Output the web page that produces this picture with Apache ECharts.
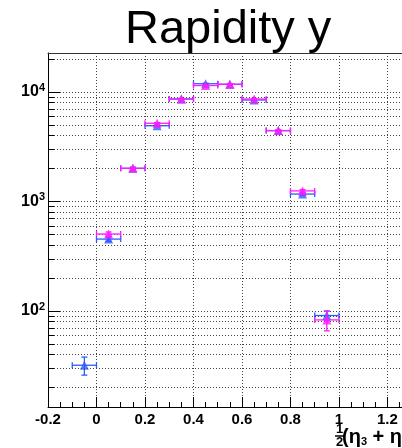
<!DOCTYPE html>
<html>
<head>
<meta charset="utf-8">
<script src="https://cdn.jsdelivr.net/npm/echarts@6/dist/echarts.min.js"></script>
<style>
  html, body { margin: 0; padding: 0; background: #fff; }
  #chart { width: 402px; height: 448px; }
</style>
</head>
<body>
<div id="chart"></div>
<script>
  // bin centres, bin half width 0.05
  var bins = [-0.05, 0.05, 0.15, 0.25, 0.35, 0.45, 0.55, 0.65, 0.75, 0.85, 0.95];
  var binHalf = 0.05;
  var blueVals = [32, 454, 2010, 4920, 8630, 11900, 11760, 8450, 4440, 1170, 91];
  var blueErrs = [6, 21, 45, 70, 93, 109, 108, 92, 67, 34, 9];
  var pinkVals = [null, 505, 2010, 5180, 8630, 11450, 11760, 8630, 4440, 1250, 83];
  var pinkErrs = [null, 22, 45, 72, 93, 107, 108, 93, 67, 35, 17];
  var xTicks = [-0.2, 1.26, 0.2];
  var yRange = [13.3, 22700];

  var font = "Liberation Sans";
  var blue = "#2a5cff";
  var pink = "#ff1aff";

  function rows(vals, errs) {
    var out = [];
    bins.forEach(function (b, i) {
      if (vals[i] != null) out.push([b, vals[i], errs[i]]);
    });
    return out;
  }

  // minor log grid values 2..9 per decade
  var minorVals = [];
  for (var d = 1; d <= 10000; d *= 10) {
    for (var k = 2; k <= 9; k++) {
      var v = k * d;
      if (v > yRange[0] && v < yRange[1]) minorVals.push(v);
    }
  }

  function errorBars(color) {
    return function (params, api) {
      var x = api.value(0), y = api.value(1), e = api.value(2);
      var l = api.coord([x - binHalf, y]);
      var r = api.coord([x + binHalf, y]);
      var t = api.coord([x, y + e]);
      var b = api.coord([x, Math.max(y - e, yRange[0])]);
      var st = { stroke: color, lineWidth: 1.3 };
      var cap = 3;
      return {
        type: "group",
        children: [
          { type: "line", shape: { x1: l[0], y1: l[1], x2: r[0], y2: r[1] }, style: st },
          { type: "line", shape: { x1: l[0], y1: l[1] - cap, x2: l[0], y2: l[1] + cap }, style: st },
          { type: "line", shape: { x1: r[0], y1: r[1] - cap, x2: r[0], y2: r[1] + cap }, style: st },
          { type: "line", shape: { x1: t[0], y1: t[1], x2: b[0], y2: b[1] }, style: st },
          { type: "line", shape: { x1: t[0] - cap, y1: t[1], x2: t[0] + cap, y2: t[1] }, style: st },
          { type: "line", shape: { x1: b[0] - cap, y1: b[1], x2: b[0] + cap, y2: b[1] }, style: st },
        ],
      };
    };
  }

  var dotted = { color: "#444", width: 1, type: [1, 2] };

  var chart = echarts.init(document.getElementById("chart"));
  var option = {
    animation: false,
    backgroundColor: "#fff",
    title: {
      text: "Rapidity y",
      left: 120,
      top: 2,
      textStyle: { fontFamily: font, fontSize: 47, fontWeight: "normal", color: "#000" },
    },
    grid: { left: 48, top: 53, width: 354, height: 354 },
    xAxis: [
      {
        type: "value",
        min: xTicks[0],
        max: xTicks[1],
        interval: xTicks[2],
        axisLine: { onZero: false, lineStyle: { color: "#000", width: 1 } },
        axisTick: { inside: true, length: 10, lineStyle: { color: "#000" } },
        minorTick: { show: true, splitNumber: 4, length: 5, lineStyle: { color: "#000" } },
        splitLine: { show: true, lineStyle: dotted },
        axisLabel: {
          margin: 5,
          fontFamily: font,
          fontWeight: "bold",
          fontSize: 15,
          color: "#000",
          showMaxLabel: false,
        },
      },
      {
        type: "value",
        position: "top",
        min: xTicks[0],
        max: xTicks[1],
        axisLine: { onZero: false, lineStyle: { color: "#333", width: 1 } },
        axisTick: { show: false },
        axisLabel: { show: false },
        splitLine: { show: false },
      },
    ],
    yAxis: {
      type: "log",
      logBase: 10,
      min: yRange[0],
      max: yRange[1],
      axisLine: { show: true, onZero: false, lineStyle: { color: "#000", width: 1 } },
      axisTick: { inside: true, length: 12, lineStyle: { color: "#000" } },
      splitLine: { show: true, lineStyle: dotted },
      axisLabel: {
        margin: 3,
        showMinLabel: false,
        showMaxLabel: false,
        formatter: function (value) {
          var e = Math.round(Math.log10(value));
          if (Math.abs(value - Math.pow(10, e)) / value > 1e-6) return "";
          return "{b|10}{s|" + e + "}";
        },
        rich: {
          b: { fontFamily: font, fontWeight: "bold", fontSize: 16, color: "#000" },
          s: { fontFamily: font, fontWeight: "bold", fontSize: 11, color: "#000", padding: [0, 0, 9, 0] },
        },
      },
    },
    series: [
      {
        type: "scatter",
        name: "grid",
        data: [],
        silent: true,
        markLine: {
          silent: true,
          symbol: "none",
          label: { show: false },
          animation: false,
          data: minorVals
            .map(function (v) {
              return { yAxis: v, lineStyle: dotted };
            })
            .concat(
              minorVals.map(function (v) {
                return [
                  { coord: [xTicks[0], v], lineStyle: { color: "#000", width: 1, type: "solid" } },
                  { coord: [xTicks[0] + 0.025, v] },
                ];
              })
            ),
        },
      },
      {
        type: "custom",
        name: "blueErr",
        renderItem: errorBars(blue),
        data: rows(blueVals, blueErrs),
        z: 3,
      },
      {
        type: "scatter",
        name: "blue",
        symbol: "triangle",
        symbolSize: 9,
        itemStyle: { color: blue },
        data: rows(blueVals, blueErrs),
        z: 4,
      },
      {
        type: "custom",
        name: "pinkErr",
        renderItem: errorBars(pink),
        data: rows(pinkVals, pinkErrs),
        z: 5,
      },
      {
        type: "scatter",
        name: "pink",
        symbol: "triangle",
        symbolSize: 9,
        itemStyle: { color: pink },
        data: rows(pinkVals, pinkErrs),
        z: 6,
      },
    ],
    graphic: [
      { type: "text", left: 336, top: 423, style: { text: "1", fontFamily: font, fontWeight: "bold", fontSize: 13, fill: "#000" } },
      { type: "line", shape: { x1: 335, y1: 436, x2: 344, y2: 436 }, style: { stroke: "#000", lineWidth: 1.5 } },
      { type: "text", left: 336, top: 436, style: { text: "2", fontFamily: font, fontWeight: "bold", fontSize: 13, fill: "#000" } },
      {
        type: "text",
        left: 342,
        top: 427,
        style: {
          text: "(η{sub|3} + η{sub|4})",
          fontFamily: font,
          fontWeight: "bold",
          fontSize: 20,
          fill: "#000",
          rich: { sub: { fontFamily: font, fontWeight: "bold", fontSize: 11, fill: "#000", padding: [9, 0, 0, 0] } },
        },
      },
    ],
  };
  chart.setOption(option);
</script>
</body>
</html>
